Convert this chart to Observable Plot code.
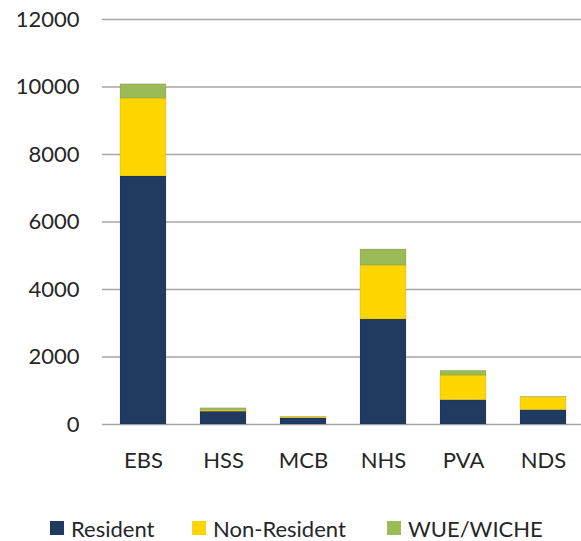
<!DOCTYPE html>
<html>
<head>
<meta charset="utf-8">
<script src="https://cdn.jsdelivr.net/npm/d3@7"></script>
<script src="https://cdn.jsdelivr.net/npm/@observablehq/plot@0.6"></script>
<style>
  html, body { margin: 0; padding: 0; background: #fff; }
  #wrap { position: relative; width: 581px; height: 541px; overflow: hidden; font-family: Lato, "Open Sans", sans-serif; }
  #legend { position: absolute; left: 0; top: 516px; width: 581px; height: 24px; font-size: 22px; color: #262626; }
  .item { position: absolute; top: 0; display: flex; align-items: center; height: 24px; white-space: nowrap; }
  .sw { width: 14px; height: 14px; margin-right: 7px; }
</style>
</head>
<body>
<div id="wrap">
  <div id="chart"></div>
  <div id="legend"></div>
</div>
<script>
const categories = ["EBS", "HSS", "MCB", "NHS", "PVA", "NDS"];
const seriesNames = ["Resident", "Non-Resident", "WUE/WICHE"];
const resident    = [7350, 380, 180, 3110, 720, 425];
const nonResident = [2310, 40, 35, 1600, 730, 385];
const wueWiche    = [420, 60, 5, 475, 140, 5];
const yTicks = [0, 2000, 4000, 6000, 8000, 10000, 12000];
const colors = ["#1f3b62", "#ffd600", "#9bbb59"];

const seriesValues = [resident, nonResident, wueWiche];
const data = [];
categories.forEach((c, i) => {
  seriesNames.forEach((s, j) => data.push({category: c, series: s, value: seriesValues[j][i]}));
});

const W = 581, H = 490;
const chart = Plot.plot({
  width: W,
  height: H,
  marginTop: 19,
  marginBottom: H - 424,
  marginLeft: 102,
  marginRight: 0,
  style: {fontFamily: "Lato, 'Open Sans', sans-serif", fontSize: "22px", color: "#262626", background: "#fff", overflow: "visible"},
  x: {domain: categories, range: [102, 584], paddingInner: 0.43, paddingOuter: 0.215, label: null},
  y: {domain: [0, 12000], ticks: yTicks, label: null},
  color: {domain: seriesNames, range: colors},
  marks: [
    Plot.ruleY(yTicks, {stroke: "#a6a6a6", strokeWidth: 1.6, strokeOpacity: 1}),
    Plot.barY(data, Plot.stackY({order: seriesNames}, {x: "category", y: "value", fill: "series", inset: 0, stroke: "rgba(0,0,0,0.12)", strokeWidth: 0.8})),
    Plot.axisX({tickSize: 0, tickPadding: 28, fontSize: 22}),
    Plot.axisY(yTicks, {tickSize: 0, tickPadding: 23, fontSize: 22, tickFormat: d => String(d)})
  ]
});
document.getElementById("chart").appendChild(chart);

const legendPos = [50, 192, 387];
const legend = document.getElementById("legend");
seriesNames.forEach((s, i) => {
  const it = document.createElement("div");
  it.className = "item";
  it.style.left = legendPos[i] + "px";
  const sw = document.createElement("span");
  sw.className = "sw";
  sw.style.background = colors[i];
  const t = document.createElement("span");
  t.textContent = s;
  it.appendChild(sw); it.appendChild(t);
  legend.appendChild(it);
});
</script>
</body>
</html>
